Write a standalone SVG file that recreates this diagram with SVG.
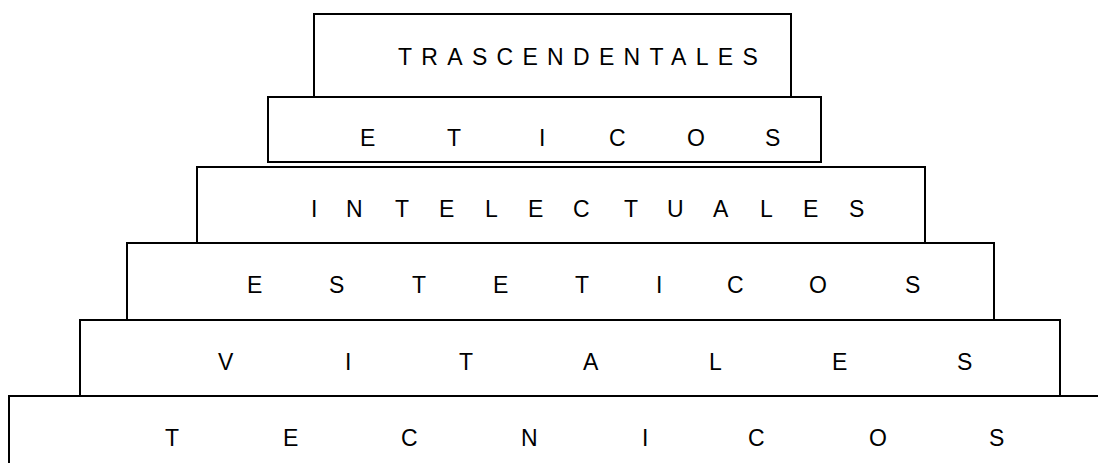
<svg xmlns="http://www.w3.org/2000/svg" width="1098" height="463" viewBox="0 0 1098 463">
<style>
.box{fill:#fff;stroke:#000;stroke-width:2}
.lbl{font-family:"Liberation Sans",Arial,sans-serif;font-size:23px;fill:#000}
</style>
<rect width="1098" height="463" fill="#fff"/>
<g id="tecnicos"><rect class="box" x="9" y="396" width="1100" height="90"/>
<text class="lbl" x="165 283 401 521 642 748 869 989" y="446">TECNICOS</text></g>
<g id="vitales"><rect class="box" x="80" y="320" width="980" height="76"/>
<text class="lbl" x="218 345 459 583 709 832 957" y="370">VITALES</text></g>
<g id="esteticos"><rect class="box" x="127" y="243" width="867" height="77"/>
<text class="lbl" x="247 329 412 493 575 656 727 809 905" y="293">ESTETICOS</text></g>
<g id="intelectuales"><rect class="box" x="197" y="167" width="728" height="76"/>
<text class="lbl" x="311 346 395 439 485 528 573 624 667 713 760 803 849" y="217">INTELECTUALES</text></g>
<g id="eticos"><rect class="box" x="268" y="97" width="553" height="65"/>
<text class="lbl" x="360 447 539 609 687 765" y="146">ETICOS</text></g>
<g id="trascendentales"><rect class="box" x="314" y="14" width="477" height="83"/>
<text class="lbl" x="398" y="65" letter-spacing="9.3">TRASCENDENTALES</text></g>
<g id="connectors"/>
</svg>
